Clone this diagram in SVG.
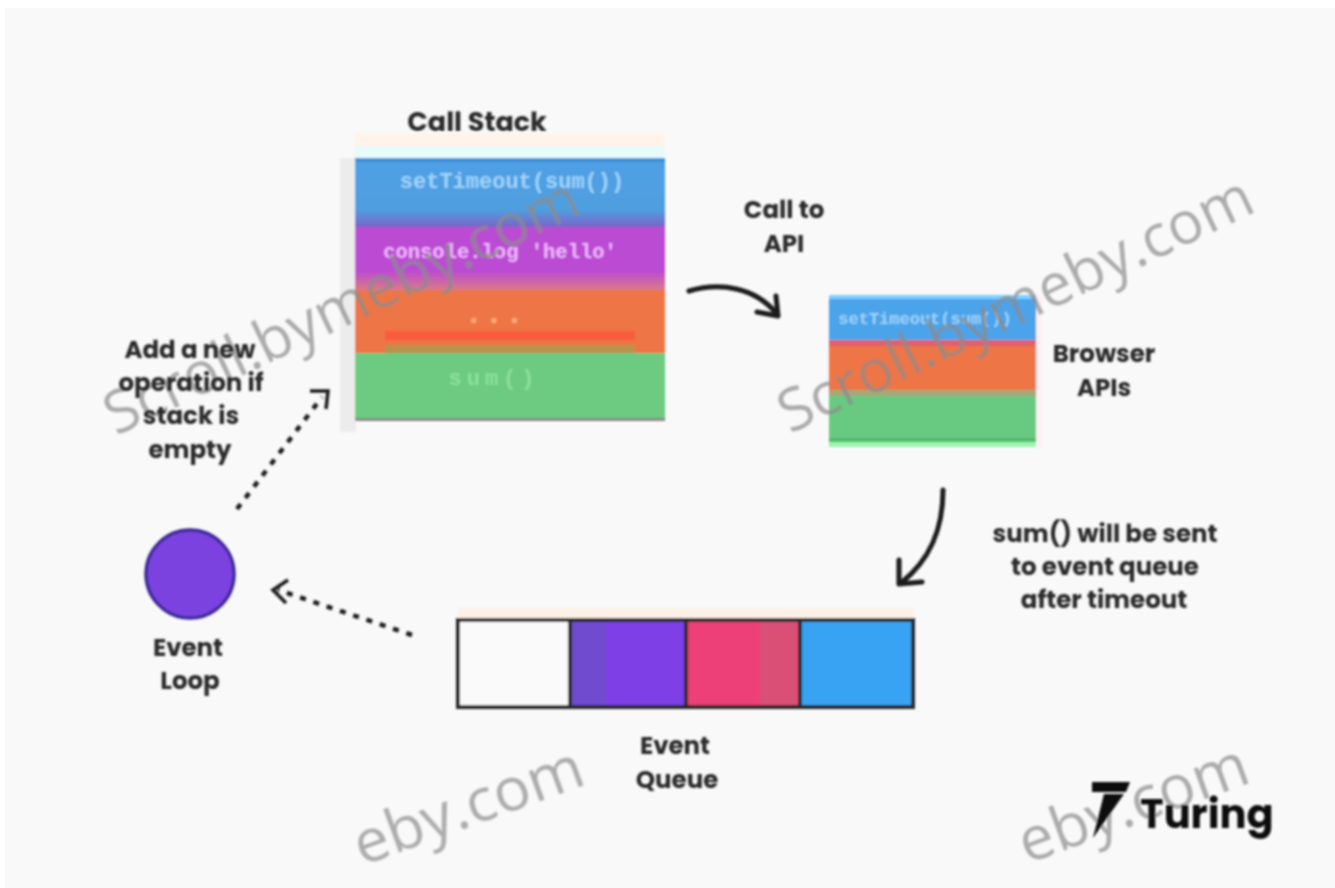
<svg xmlns="http://www.w3.org/2000/svg" width="1335" height="888" viewBox="0 0 1335 888">
<defs>
<style>
.l{font-family:Poppins,"Open Sans","Liberation Sans",sans-serif;font-weight:700;font-size:24.5px;fill:#2b2b2b;text-anchor:middle}
.c{font-family:"Liberation Mono",monospace;font-size:22px;text-anchor:middle;font-weight:700}
.w{font-family:"Open Sans","Liberation Sans",sans-serif;font-size:59px;fill:#8c8c8c;opacity:.7}
.d{fill:none;stroke:#1c1c1c;stroke-width:4.5;stroke-dasharray:6 8}
.a{fill:none;stroke:#1c1c1c;stroke-width:5;stroke-linecap:round;stroke-linejoin:round}
.h{fill:none;stroke:#1c1c1c;stroke-width:3.5}
</style>
<linearGradient id="bluefade" x1="0" y1="0" x2="0" y2="1"><stop offset="0" stop-color="#4f9fe6"/><stop offset=".75" stop-color="#4f9fdf"/><stop offset="1" stop-color="#7a63c8"/></linearGradient>
<linearGradient id="purplefade" x1="0" y1="0" x2="0" y2="1"><stop offset="0" stop-color="#bb4cd3"/><stop offset=".7" stop-color="#bb4cd3"/><stop offset="1" stop-color="#d97a86"/></linearGradient>
<filter id="soft" x="-2%" y="-2%" width="104%" height="104%"><feGaussianBlur stdDeviation="0.9"/></filter>
</defs>
<rect width="1335" height="888" fill="#ffffff"/>
<rect x="5" y="8" width="1330" height="880" fill="#f9f9f9"/>
<g filter="url(#soft)">
<g id="call-stack">
<rect x="340" y="158" width="16" height="274" fill="#ececec"/>
<rect x="355" y="133" width="310" height="25" fill="#fff3ea"/>
<rect x="355" y="146" width="310" height="12" fill="#e8fbfb"/>
<rect x="355" y="158" width="310" height="69" fill="url(#bluefade)"/>
<rect x="355" y="158" width="310" height="4" fill="#3d8fd6"/>
<rect x="355" y="227" width="310" height="63" fill="url(#purplefade)"/>
<rect x="355" y="290" width="310" height="63" fill="#ee7544"/>
<rect x="385" y="331" width="250" height="9" fill="#fa5c3d"/>
<rect x="385" y="345" width="250" height="8" fill="#b9924c"/>
<rect x="355" y="353" width="310" height="65" fill="#6ccb80"/>
<rect x="355" y="418" width="310" height="3" fill="#8a8a8a"/>
<text class="c" x="512" y="188" fill="#9fd4fb">setTimeout(sum())</text>
<text class="c" x="500" y="258" fill="#f0b6ff" style="font-size:20.5px">console.log 'hello'</text>
<text class="c" x="494" y="323" fill="#ffa878" style="font-size:34px">...</text>
<text class="c" x="494" y="385" fill="#8ee09c" style="letter-spacing:5px">sum()</text>
</g>
<g id="browser-apis">
<rect x="829" y="295" width="207" height="50" fill="#4ba3ea"/>
<rect x="829" y="295" width="207" height="4" fill="#7fd0ff"/>
<rect x="829" y="340" width="207" height="6" fill="#e2616c"/>
<rect x="829" y="346" width="207" height="44" fill="#ee7544"/>
<rect x="829" y="390" width="207" height="52" fill="#68ca80"/>
<rect x="829" y="390" width="207" height="6" fill="#a5a878"/>
<rect x="829" y="438" width="207" height="4" fill="#52b96c"/>
<rect x="829" y="442" width="207" height="5" fill="#9cf5ae"/>
<rect x="1036" y="295" width="6" height="152" fill="#fdeff5"/>
<text class="c" x="925" y="324" fill="#9fd4fb" style="font-size:17px">setTimeout(sum())</text>
</g>
<g id="event-queue">
<rect x="458" y="608" width="455" height="12" fill="#fdf0e6"/>
<rect x="458" y="620" width="112" height="87" fill="#fafafa"/>
<rect x="570" y="620" width="116" height="87" fill="#7e3fe6"/>
<rect x="570" y="620" width="36" height="87" fill="#6f4ccf"/>
<rect x="686" y="620" width="114" height="87" fill="#ee3f78"/>
<rect x="760" y="620" width="40" height="87" fill="#d94f74"/>
<rect x="800" y="620" width="113" height="87" fill="#37a3f2"/>
<rect x="458" y="620" width="455" height="87" fill="none" stroke="#2c2c2c" stroke-width="4"/>
<path d="M570 620V707M686 620V707M800 620V707" stroke="#2c2c2c" stroke-width="4" fill="none"/>
</g>
<g id="watermarks">
<text class="w" transform="translate(116 436) rotate(-25.5)">Scroll.bymeby.com</text>
<text class="w" transform="translate(790 434) rotate(-25.5)">Scroll.bymeby.com</text>
<text class="w" transform="translate(362 866) rotate(-20)" style="font-size:61px">eby.com</text>
<text class="w" transform="translate(1027 864) rotate(-20)" style="font-size:61px">eby.com</text>
</g>
<g id="event-loop">
<circle cx="190" cy="574" r="44" fill="#7c43e0" stroke="#3f2c9c" stroke-width="3.5"/>
<text class="l" x="188" y="656">Event</text>
<text class="l" x="190" y="689">Loop</text>
</g>
<g id="connectors">
<path class="a" d="M689 291C720 282 755 287 777 314"/>
<path class="a" d="M757 312L778 316L776 296"/>
<path class="a" d="M943 490C943 530 930 560 901 583"/>
<path class="a" d="M899 560L899 584L922 582"/>
<path class="d" d="M237 509L322 397"/>
<path class="h" d="M310 391L328 391L326 409"/>
<path class="d" d="M412 635L278 590"/>
<path class="h" d="M288 580L273 590L286 603"/>
</g>
<g id="labels">
<text class="l" x="477" y="131" style="font-size:27px">Call Stack</text>
<text class="l" x="1104" y="362">Browser</text>
<text class="l" x="1104" y="396">APIs</text>
<text class="l" x="675" y="754">Event</text>
<text class="l" x="677" y="788">Queue</text>
<text class="l" x="784" y="218">Call to</text>
<text class="l" x="784" y="252">API</text>
<text class="l" x="190" y="358">Add a new</text>
<text class="l" x="191" y="391">operation if</text>
<text class="l" x="191" y="424">stack is</text>
<text class="l" x="190" y="458">empty</text>
<text class="l" x="1105" y="542">sum() will be sent</text>
<text class="l" x="1105" y="575">to event queue</text>
<text class="l" x="1104" y="608">after timeout</text>
</g>
<g id="logo">
<path d="M1092 782H1130L1126 792H1092Z" fill="#0a0a0a"/>
<path d="M1104 794H1124L1093 838Z" fill="#0a0a0a"/>
<text x="1140" y="828" font-family="Poppins,'Open Sans','Liberation Sans',sans-serif" font-weight="700" font-size="40" fill="#111">Turing</text>
</g>
</g>
</svg>
